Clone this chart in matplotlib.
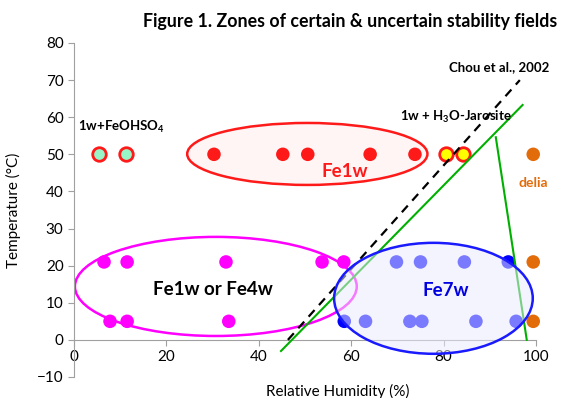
import matplotlib
matplotlib.use('Agg')
import matplotlib.pyplot as plt
from matplotlib.patches import Ellipse

plt.rcParams['font.family'] = ['Lato', 'DejaVu Sans']
plt.rcParams['mathtext.fontset'] = 'custom'
plt.rcParams['mathtext.rm'] = 'Lato'
plt.rcParams['mathtext.bf'] = 'Lato:bold'

# 1w + FeOHSO4 points
feohso4_rh = [5.5, 11.3]
feohso4_t = [50, 50]
# Fe1w points
fe1w_rh = [30.3, 45.2, 50.6, 64.1, 73.8]
fe1w_t = [50, 50, 50, 50, 50]
# 1w + H3O-jarosite
jar_rh = [80.5, 84.2]
jar_t = [50, 50]
# Fe1w or Fe4w
fe14_rh = [6.5, 11.5, 32.9, 53.7, 58.4, 7.8, 11.5, 33.5]
fe14_t = [21, 21, 21, 21, 21, 5, 5, 5]
# Fe7w
fe7_rh = [69.8, 75.0, 84.5, 94.0, 58.5, 63.1, 72.7, 75.3, 87.0, 95.7]
fe7_t = [21, 21, 21, 21, 5, 5, 5, 5, 5, 5]
# delia
delia_rh = [99.4, 99.4, 99.4]
delia_t = [50, 21, 5]

# boundary lines
chou_rh = [46.3, 96.5]
chou_t = [0, 70]
green1_rh = [44.8, 97.1]
green1_t = [-3, 63.3]
green2_rh = [91.3, 98.0]
green2_t = [54.6, 0]

fig = plt.figure(figsize=(5.71, 3.98), dpi=100)
ax = fig.add_axes([0.1296, 0.0528, 0.8091, 0.8392])
ax.set_xlim(0, 100)
ax.set_ylim(-10, 80)

# ellipses behind points
ax.add_patch(Ellipse((50.5, 50.1), 52, 16.7, facecolor=(1, 0.96, 0.96), edgecolor='#ff1a1a', lw=1.8, zorder=1))
ax.add_patch(Ellipse((30.7, 14.4), 61, 26.7, facecolor='none', edgecolor='#ff00ff', lw=1.8, zorder=1))

ms = 95
ax.scatter(feohso4_rh, feohso4_t, s=ms, color='#98f5c8', edgecolors='#ff1a1a', linewidths=2, zorder=2)
ax.scatter(fe1w_rh, fe1w_t, s=ms, color='#ff1a1a', edgecolors='none', zorder=2)
ax.scatter(jar_rh, jar_t, s=ms, color='#ffff00', edgecolors='#ff1a1a', linewidths=2, zorder=2)
ax.scatter(fe14_rh, fe14_t, s=ms, color='#ff00ff', edgecolors='none', zorder=2)
ax.scatter(fe7_rh, fe7_t, s=ms, color='#0000ff', edgecolors='none', zorder=2)
ax.scatter(delia_rh, delia_t, s=ms, color='#e36c0a', edgecolors='none', zorder=2, clip_on=False)

ax.plot(chou_rh, chou_t, color='black', lw=1.6, ls=(0, (4, 3)), zorder=3)
ax.plot(green1_rh, green1_t, color='#00b000', lw=1.5, zorder=3)
ax.plot(green2_rh, green2_t, color='#00b000', lw=1.5, zorder=3)

ax.add_patch(Ellipse((77.8, 11.2), 43, 29.9, facecolor=(0.92, 0.92, 1.0, 0.52), edgecolor='#1a1aff', lw=1.8, zorder=4))

# labels
ax.text(0.9, 57.4, r'1w+FeOHSO$_\mathbf{4}$', fontsize=9.5, fontweight='bold', va='center', ha='left', zorder=5)
ax.text(70.5, 60, r'1w + H$_\mathbf{3}$O-Jarosite', fontsize=9.5, fontweight='bold', va='center', ha='left', zorder=5)
ax.text(92, 73.6, 'Chou et al., 2002', fontsize=9.5, fontweight='bold', va='center', ha='center', zorder=5)
ax.text(58.7, 45.3, 'Fe1w', fontsize=13.5, fontweight='bold', color='#ff1a1a', va='center', ha='center', zorder=5)
ax.text(99.4, 42.3, 'delia', fontsize=10, fontweight='bold', color='#e36c0a', va='center', ha='center', zorder=5)
ax.text(30, 13.5, 'Fe1w or Fe4w', fontsize=13.5, fontweight='bold', va='center', ha='center', zorder=5)
ax.text(80.5, 13.2, 'Fe7w', fontsize=13.5, fontweight='bold', color='#0000e0', va='center', ha='center', zorder=5)

# axes styling
for s in ['top', 'right']:
    ax.spines[s].set_visible(False)
ax.spines['bottom'].set_position(('data', 0))
ax.spines['bottom'].set_color('#a0a0a0')
ax.spines['left'].set_color('#a0a0a0')
ax.set_xticks([0, 20, 40, 60, 80, 100])
ax.set_yticks(range(-10, 90, 10))
ax.tick_params(axis='both', colors='#a0a0a0', labelcolor='black', labelsize=11, length=4, direction='out')
ax.set_xlabel('Relative Humidity (%)', fontsize=11)
ax.xaxis.set_label_coords(0.57, -0.02)
ax.set_ylabel('Temperature (°C)', fontsize=11)
ax.yaxis.set_label_coords(-0.115, 0.5)

fig.text(0.613, 0.945, 'Figure 1. Zones of certain & uncertain stability fields', fontsize=12.8,
         fontweight='bold', ha='center', va='center')

fig.savefig('out.png', dpi=100)
